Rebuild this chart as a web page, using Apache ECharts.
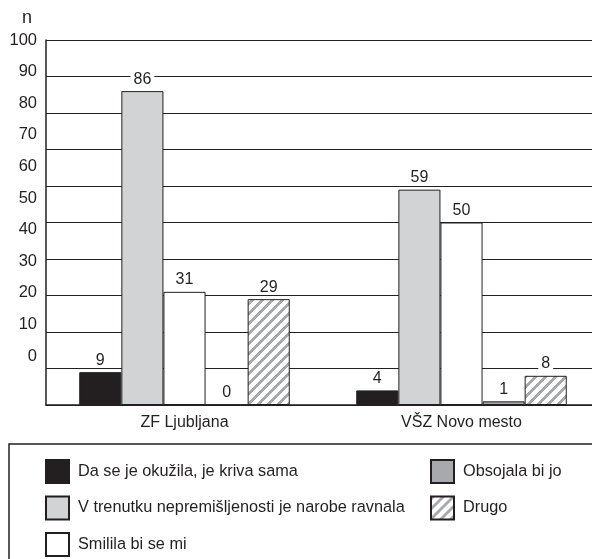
<!DOCTYPE html>
<html>
<head>
<meta charset="utf-8">
<script src="https://cdn.jsdelivr.net/npm/echarts@6/dist/echarts.min.js"></script>
<style>html,body{margin:0;padding:0;background:#fff;}#c{width:592px;height:559px;}</style>
</head>
<body>
<div id="c"></div>
<script>
const categories = ['ZF Ljubljana', 'VŠZ Novo mesto'];
const seriesNames = ['Da se je okužila, je kriva sama', 'V trenutku nepremišljenosti je narobe ravnala', 'Smilila bi se mi', 'Obsojala bi jo', 'Drugo'];
const krivaSama = [9, 4];
const nepremisljenost = [86, 59];
const smilila = [31, 50];
const obsojala = [0, 1];
const drugo = [29, 8];
const yTicks = [0, 10, 20, 30, 40, 50, 60, 70, 80, 90, 100];

const FONT = "'Liberation Sans', Arial, sans-serif";
const INK = '#231f20';

// hatch pattern
const pc = document.createElement('canvas');
pc.width = 10; pc.height = 10;
const pctx = pc.getContext('2d');
pctx.fillStyle = '#ffffff';
pctx.fillRect(0, 0, 10, 10);
pctx.fillStyle = '#a7a9ac';
for (let x = 0; x < 10; x++) {
  for (let y = 0; y < 10; y++) {
    if (((x + y) % 10) < 4) pctx.fillRect(x, y, 1, 1);
  }
}
const hatch = { image: pc, repeat: 'repeat' };

const fills = [INK, '#d1d3d4', '#ffffff', '#a7a9ac', hatch];
const values = [krivaSama, nepremisljenost, smilila, obsojala, drugo];

const chart = echarts.init(document.getElementById('c'), null, { renderer: 'canvas' });

const series = seriesNames.map((name, i) => ({
  name: name,
  type: 'bar',
  xAxisIndex: 0,
  yAxisIndex: 0,
  data: values[i],
  barGap: '0%',
  barCategoryGap: '24%',
  itemStyle: { color: fills[i], borderColor: INK, borderWidth: 1 },
  label: {
    show: true,
    position: 'top',
    distance: 5,
    fontFamily: FONT,
    fontSize: 16,
    color: INK,
    lineHeight: 14,
    backgroundColor: '#ffffff',
    padding: [0, 3, 0, 3]
  },
  emphasis: { disabled: true },
  animation: false
}));

const legendBase = {
  orient: 'vertical',
  top: 459,
  height: 200,
  padding: 0,
  icon: 'rect',
  itemWidth: 23, itemHeight: 23,
  itemGap: 11.5,
  selectedMode: false,
  textStyle: { fontFamily: FONT, fontSize: 16.3, color: INK, padding: [0, 0, 0, 4] }
};

chart.setOption({
  animation: false,
  backgroundColor: '#ffffff',
  title: {
    text: 'n',
    left: 17,
    top: 4,
    textStyle: { fontFamily: FONT, fontSize: 18, fontWeight: 'normal', color: INK }
  },
  grid: [
    { left: 46, top: 40, width: 554, height: 365, containLabel: false, outerBoundsMode: 'none' },
    { left: 46, top: 40, width: 10, height: 316, containLabel: false, outerBoundsMode: 'none' }
  ],
  xAxis: [
    {
      type: 'category',
      gridIndex: 0,
      data: categories,
      axisLine: { show: true, lineStyle: { color: INK, width: 1.5 } },
      axisTick: { show: false },
      axisLabel: { fontFamily: FONT, fontSize: 16, color: INK, margin: 10 },
      splitLine: { show: false }
    },
    { type: 'value', gridIndex: 1, show: false }
  ],
  yAxis: [
    {
      type: 'value',
      gridIndex: 0,
      min: 0, max: 100, interval: 10,
      axisLine: { show: true, lineStyle: { color: INK, width: 1.5 } },
      axisTick: { show: false },
      axisLabel: { show: false },
      splitLine: { show: true, lineStyle: { color: INK, width: 1.2 } }
    },
    {
      type: 'value',
      gridIndex: 1,
      min: yTicks[0], max: yTicks[yTicks.length - 1], interval: 10,
      axisLine: { show: false },
      axisTick: { show: false },
      splitLine: { show: false },
      axisLabel: { fontFamily: FONT, fontSize: 16.5, color: INK, margin: 9 }
    }
  ],
  legend: [
    Object.assign({}, legendBase, { data: seriesNames.slice(0, 3), left: 45 }),
    Object.assign({}, legendBase, { data: seriesNames.slice(3), left: 430 })
  ],
  graphic: [
    {
      type: 'rect',
      shape: { x: 9, y: 444, width: 620, height: 200 },
      style: { fill: 'none', stroke: INK, lineWidth: 1.5 },
      silent: true,
      z: -1
    }
  ],
  series: series
});
</script>
</body>
</html>
